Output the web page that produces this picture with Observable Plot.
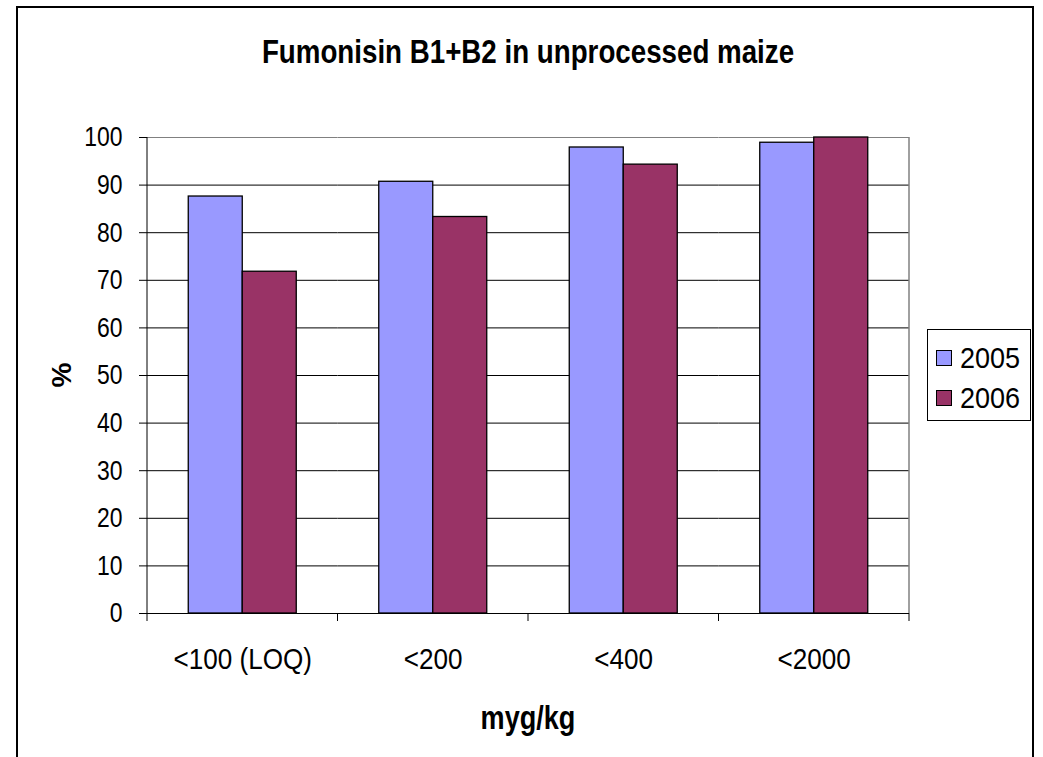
<!DOCTYPE html>
<html><head><meta charset="utf-8">
<script src="https://cdn.jsdelivr.net/npm/d3@7"></script>
<script src="https://cdn.jsdelivr.net/npm/@observablehq/plot@0.6"></script>
<style>
body{margin:0;background:#fff;}
#wrap{position:relative;width:1043px;height:757px;overflow:hidden;font-family:"Liberation Sans",Arial,sans-serif;color:#000;}
#wrap svg{position:absolute;left:0;top:0;}
#border{position:absolute;left:16px;top:6px;width:1018px;height:800px;border:2px solid #000;box-sizing:border-box;}
#title{position:absolute;left:147px;width:762px;top:32px;text-align:center;font-weight:bold;font-size:33px;line-height:40px;transform:scaleX(0.84);}
#xlabel{position:absolute;left:147px;width:762px;top:698px;text-align:center;font-weight:bold;font-size:33px;line-height:40px;transform:scaleX(0.82);}
#ylabel{position:absolute;left:62px;top:375px;font-weight:bold;font-size:28px;line-height:30px;transform:translate(-50%,-50%) rotate(-90deg);}
#legend{position:absolute;left:927px;top:329px;width:104px;height:92px;border:1px solid #000;box-sizing:border-box;background:#fff;}
.li{position:absolute;left:8px;height:32px;display:flex;align-items:center;font-size:30px;}
.sw{width:16px;height:16px;border:1px solid #000;box-sizing:border-box;margin-right:8px;}
.li span{display:inline-block;transform:scaleX(0.9);transform-origin:left center;}
</style></head><body>
<div id="wrap">
 <div id="border"></div>
 <div id="title">Fumonisin B1+B2 in unprocessed maize</div>
 <div id="ylabel">%</div>
 <div id="xlabel">myg/kg</div>
 <div id="legend"></div>
</div>
<script>
const categories = ["<100 (LOQ)", "<200", "<400", "<2000"];
const years = ["2005", "2006"];
const values2005 = [87.6, 90.7, 97.9, 98.9];
const values2006 = [71.8, 83.3, 94.3, 100];
const yTicks = [0, 10, 20, 30, 40, 50, 60, 70, 80, 90, 100];
const colors = ["#9999FF", "#993366"];

const data = categories.flatMap((c, i) => [
  {cat: c, year: years[0], value: values2005[i]},
  {cat: c, year: years[1], value: values2006[i]}
]);

const chart = Plot.plot({
  width: 1043, height: 757,
  marginLeft: 147, marginRight: 134, marginTop: 137, marginBottom: 144,
  style: {fontFamily: '"Liberation Sans",Arial,sans-serif', fontSize: "28px", color: "#000", background: "transparent", overflow: "visible"},
  fx: {domain: categories, padding: 0, round: false, label: null, axis: null},
  x: {domain: years, paddingInner: 0, paddingOuter: 0.764, round: false, axis: null},
  y: {domain: [0, 100], label: null},
  color: {domain: years, range: colors},
  marks: [
    Plot.gridY(yTicks, {stroke: d => d === 100 ? "#808080" : "#000", strokeOpacity: 1, strokeWidth: 1}),
    Plot.barY(data, {fx: "cat", x: "year", y: "value", fill: "year", stroke: "#000", strokeWidth: 1.3, inset: 0}),
    Plot.ruleY([0], {stroke: "#000"}),
    Plot.axisY(yTicks, {tickSize: 8, tickPadding: 17, label: null, fontSize: 28}),
    Plot.axisFx({anchor: "bottom", tickSize: 0, tickPadding: 35, label: null, fontSize: 29})
  ]
});
document.getElementById("wrap").appendChild(chart);

// narrow the tick labels horizontally (Arial Narrow look)
function narrow(sel, s) {
  sel.each(function() {
    const t = d3.select(this);
    const tr = t.attr("transform");
    if (tr) {
      t.attr("transform", tr + ` scale(${s},1)`);
    } else {
      const x = +t.attr("x") || 0, y = +t.attr("y") || 0;
      t.attr("x", null).attr("y", null).attr("transform", `translate(${x},${y}) scale(${s},1)`);
    }
  });
}
narrow(d3.select(chart).selectAll("g[aria-label='y-axis tick label'] text"), 0.82);
narrow(d3.select(chart).selectAll("g[aria-label='fx-axis tick label'] text"), 0.9);

// axis lines, plot-area border and between-group ticks from the library's scales
const fx = chart.scale("fx"), y = chart.scale("y");
const x0 = fx.apply(categories[0]);
const bounds = categories.map(c => fx.apply(c)).concat([fx.apply(categories[categories.length - 1]) + fx.bandwidth]);
const xEnd = bounds[bounds.length - 1];
const g = d3.select(chart).append("g");
g.append("line").attr("x1", xEnd).attr("x2", xEnd).attr("y1", y.apply(0)).attr("y2", y.apply(100)).attr("stroke", "#808080").attr("stroke-width", 1.5);
g.append("line").attr("x1", x0).attr("x2", x0).attr("y1", y.apply(0)).attr("y2", y.apply(100)).attr("stroke", "#000");
g.selectAll(".bt").data(bounds).join("line").attr("x1", d => d).attr("x2", d => d).attr("y1", y.apply(0)).attr("y2", y.apply(0) + 8).attr("stroke", "#000");

const legend = d3.select("#legend");
years.forEach((yr, i) => {
  const item = legend.append("div").attr("class", "li").style("top", (12 + i * 40) + "px");
  item.append("div").attr("class", "sw").style("background", colors[i]);
  item.append("span").text(yr);
});
</script>
</body></html>
